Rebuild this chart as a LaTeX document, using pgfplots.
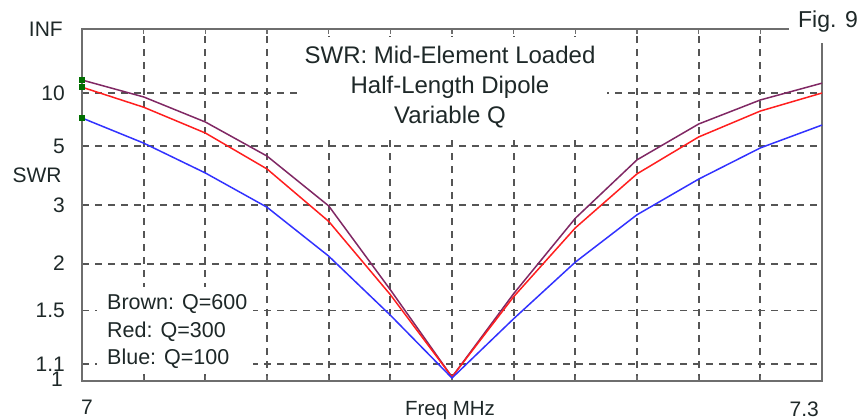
\documentclass[border=0pt]{standalone}
\usepackage{pgfplots}
\pgfplotsset{compat=1.18}
\usepackage{pgfplotstable}
\usepackage{fontspec}
\setmainfont{Liberation Sans}

\definecolor{swrbrown}{RGB}{128,40,100}
\definecolor{swrred}{RGB}{255,30,30}
\definecolor{swrblue}{RGB}{50,50,255}
\definecolor{markgreen}{RGB}{0,110,0}
\definecolor{framegray}{RGB}{110,110,110}
\definecolor{gridgray}{RGB}{85,85,85}
\definecolor{txt}{RGB}{30,40,40}

% SWR sweeps, 13 points 7.000 - 7.300 MHz
\pgfplotstableread{
f     swr
7.000 12.8
7.025 9.36
7.050 6.57
7.075 4.54
7.100 2.98
7.125 1.70
7.150 1.023
7.175 1.66
7.200 2.72
7.225 4.38
7.250 6.41
7.275 8.92
7.300 12.0
}\qsixhundred

\pgfplotstableread{
f     swr
7.000 11.1
7.025 8.0
7.050 5.77
7.075 4.03
7.100 2.66
7.125 1.65
7.150 1.023
7.175 1.63
7.200 2.54
7.225 3.86
7.250 5.52
7.275 7.58
7.300 10.0
}\qthreehundred

\pgfplotstableread{
f     swr
7.000 6.91
7.025 5.17
7.050 3.89
7.075 2.95
7.100 2.10
7.125 1.46
7.150 1.017
7.175 1.43
7.200 2.02
7.225 2.79
7.250 3.69
7.275 4.92
7.300 6.33
}\qonehundred

\begin{document}
\begin{tikzpicture}[x=1pt,y=1pt]
\useasboundingbox (0,0) rectangle (862,420);
\begin{axis}[
  at={(82pt,39pt)}, anchor=south west, scale only axis,
  width=740pt, height=352pt,
  xmin=7, xmax=7.3, ymin=0, ymax=1,
  clip=false,
  axis line style={draw=framegray, line width=2pt},
  tick align=inside, major tick length=5pt,
  xtick={7.025,7.05,7.075,7.1,7.125,7.15,7.175,7.2,7.225,7.25,7.275},
  xticklabels={,,,,,,,,,,},
  xtick style={draw=framegray, line width=1.5pt},
  % SWR scale is linear in reflection coefficient (SWR-1)/(SWR+1)
  ytick={0.047619,0.2,0.333333,0.5,0.666667,0.818182},
  yticklabels={1.1,1.5,2,3,5,10},
  ytick style={draw=none},
  extra y ticks={0,1},
  extra y tick labels={\raisebox{4pt}{1},INF},
  extra y tick style={grid=none, yticklabel style={xshift=-2pt}},
  yticklabel style={anchor=east, inner sep=0pt, xshift=-17pt,
    font=\fontsize{21}{25}\selectfont, text=txt},
  grid=major,
  major grid style={draw=gridgray, line width=1.8pt, dash pattern=on 7pt off 6pt},
  y filter/.expression={(y-1)/(y+1)},
]
\addplot[color=swrbrown, line width=1.5pt, mark=square*, mark indices={1},
  mark size=2.2pt, mark options={fill=markgreen, draw=markgreen}]
  table[x=f, y=swr] {\qsixhundred};
\addplot[color=swrred, line width=1.5pt, mark=square*, mark indices={1},
  mark size=2.2pt, mark options={fill=markgreen, draw=markgreen}]
  table[x=f, y=swr] {\qthreehundred};
\addplot[color=swrblue, line width=1.5pt, mark=square*, mark indices={1},
  mark size=2.2pt, mark options={fill=markgreen, draw=markgreen}]
  table[x=f, y=swr] {\qonehundred};
\end{axis}

% white boxes behind the text blocks
\fill[white] (300,283) rectangle (607,383);
\fill[white] (97,50) rectangle (253,133);
\fill[white] (789,377) rectangle (862,420);

\begin{scope}[every node/.style={inner sep=0pt, text=txt}]
\node[anchor=base, font=\fontsize{24}{28}\selectfont] at (450,356.6) {SWR: Mid-Element Loaded};
\node[anchor=base, font=\fontsize{24}{28}\selectfont] at (450,326.6) {Half-Length Dipole};
\node[anchor=base, font=\fontsize{24}{28}\selectfont] at (450,296.6) {Variable Q};

\node[anchor=base west, font=\fontsize{21.5}{25}\selectfont] at (107,110.5) {Brown: Q=600};
\node[anchor=base west, font=\fontsize{21.5}{25}\selectfont] at (107,82.5) {Red: Q=300};
\node[anchor=base west, font=\fontsize{21.5}{25}\selectfont] at (107,55.5) {Blue: Q=100};

\node[anchor=base, font=\fontsize{23}{27}\selectfont] at (828,392.8) {Fig. 9};
\node[font=\fontsize{21}{25}\selectfont] at (37,245) {SWR};

\node[anchor=base west, font=\fontsize{21}{25}\selectfont] at (81,5) {7};
\node[anchor=base east, font=\fontsize{21}{25}\selectfont] at (819,3.5) {7.3};
\node[anchor=base, font=\fontsize{20.5}{25}\selectfont] at (450,4.5) {Freq MHz};
\end{scope}
\end{tikzpicture}
\end{document}
